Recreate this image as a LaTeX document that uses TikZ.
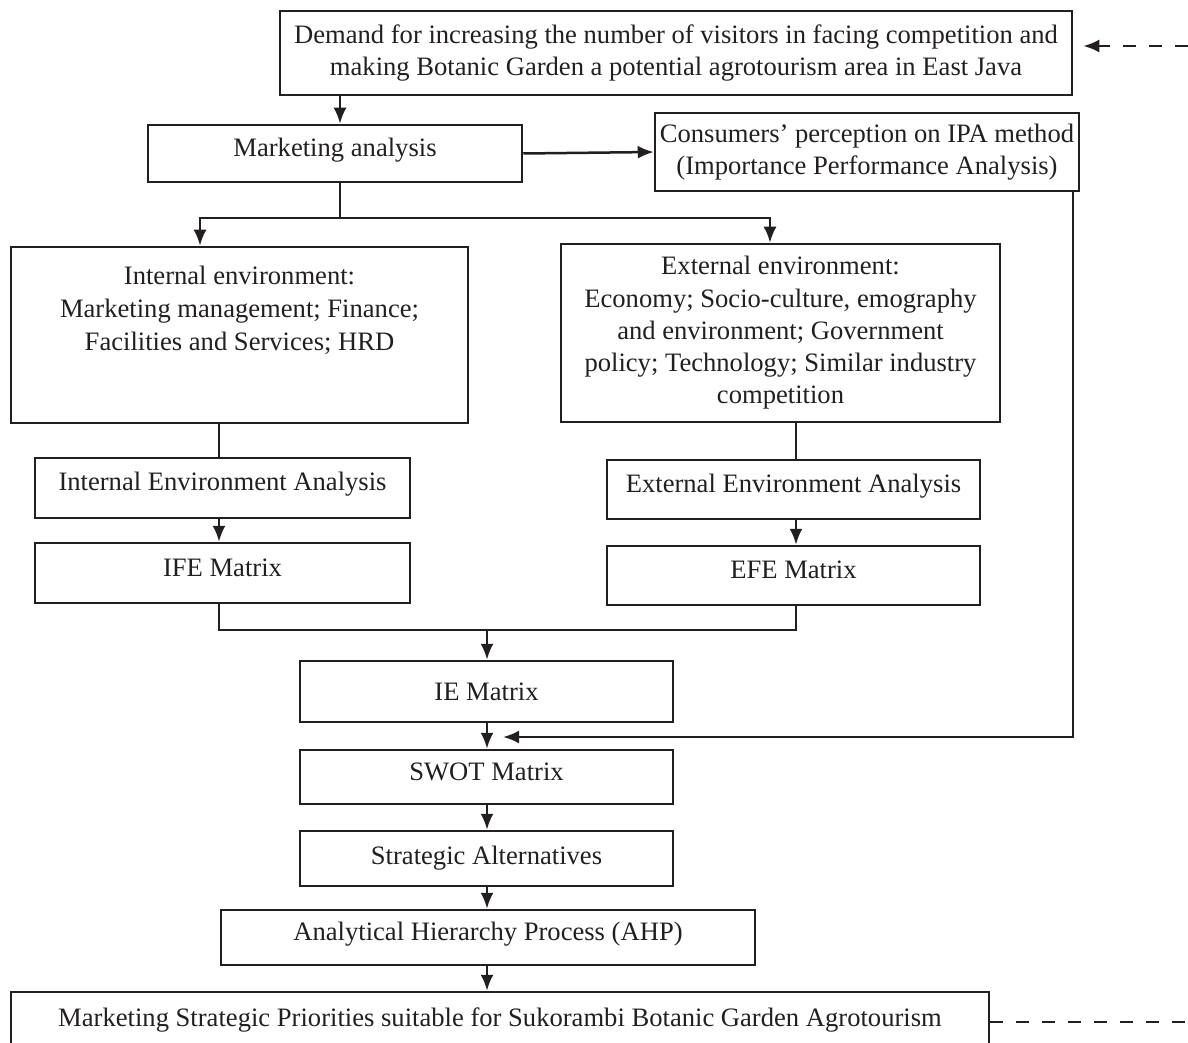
\documentclass[tikz,border=0pt]{standalone}
\usepackage{fontspec}
\setmainfont{Liberation Serif}
\usetikzlibrary{arrows.meta}
\definecolor{ink}{HTML}{231F20}
\begin{document}
\begin{tikzpicture}[x=0.5pt,y=-0.5pt,
  box/.style={draw=ink, line width=1.25pt, inner sep=0pt, text=ink, align=center,
    font=\fontsize{13.3}{16.1}\selectfont},
  lift/.style={text depth=5.8pt},
  plain/.style={text=ink, align=center, inner sep=0pt, font=\fontsize{13.3}{16.5}\selectfont},
  conn/.style={draw=ink, line width=1.25pt},
  tip/.style={-{Latex[length=8pt,width=6.5pt]}},
  arr/.style={conn, tip},
  dashline/.style={conn, dash pattern=on 6.5pt off 6.5pt}]
\useasboundingbox (0,0) rectangle (1188,1043);

% boxes
\node[box, minimum width=396pt, minimum height=42pt] (top) at (676,53)
  {Demand for increasing the number of visitors in facing competition and\\making Botanic Garden a potential agrotourism area in East Java};
\node[box, lift, minimum width=187pt, minimum height=28.5pt] (mkt) at (335,153.5) {Marketing analysis};
\node[box, minimum width=212pt, minimum height=39pt] (cons) at (867,152)
  {Consumers’ perception on IPA method\\(Importance Performance Analysis)};
\node[box, minimum width=228.5pt, minimum height=88pt] (intenv) at (239.5,335) {};
\node[plain] (intenvtxt) at (239.5,310)
  {Internal environment:\\Marketing management; Finance;\\Facilities and Services; HRD};
\node[box, minimum width=219.5pt, minimum height=89pt] (extenv) at (780.5,333)
  {External environment:\\Economy; Socio-culture, emography\\and environment; Government\\policy; Technology; Similar industry\\competition};
\node[box, lift, text depth=7pt, minimum width=187.5pt, minimum height=30pt] (iea) at (222.5,488) {Internal Environment Analysis};
\node[box, lift, minimum width=186.5pt, minimum height=29.5pt] (eea) at (793.5,489.5) {External Environment Analysis};
\node[box, lift, minimum width=187.5pt, minimum height=30pt] (ife) at (222.5,573) {IFE Matrix};
\node[box, lift, minimum width=186.5pt, minimum height=29.5pt] (efe) at (793.5,575.5) {EFE Matrix};
\node[box, minimum width=186.5pt, minimum height=30.5pt] (ie) at (486.5,691.5) {IE Matrix};
\node[box, lift, minimum width=186.5pt, minimum height=27pt] (swot) at (486.5,777) {SWOT Matrix};
\node[box, minimum width=186.5pt, minimum height=27.5pt] (sa) at (486.5,858.5) {Strategic Alternatives};
\node[box, lift, minimum width=267pt, minimum height=27.5pt] (ahp) at (488,937.5) {Analytical Hierarchy Process (AHP)};
\node[box, minimum width=489pt, minimum height=28pt] (msp) at (500,1020)
  {Marketing Strategic Priorities suitable for Sukorambi Botanic Garden Agrotourism};

% helper coordinates
\coordinate (xa) at (340,0);
\coordinate (xl) at (200,0);
\coordinate (xr) at (770,0);
\coordinate (xi) at (219,0);
\coordinate (xe) at (796,0);
\coordinate (xc) at (1073,0);
\coordinate (jm) at (340,218);
\coordinate (jb) at (487,630);
\coordinate (ipain) at (503,737);
\coordinate (rt) at (1188,46);
\coordinate (rb) at (1188,1022);

% connectors
\draw[arr] (top.south -| xa) -- (mkt.north -| xa);
\draw[arr] (mkt.east) -- (cons.west);
\draw[conn] (mkt.south -| xa) -- (jm);
\draw[arr] (jm) -| (xl |- intenv.north);
\draw[arr] (jm) -| (xr |- extenv.north);
\draw[conn] (intenv.south -| xi) -- (iea.north -| xi);
\draw[conn] (extenv.south -| xe) -- (eea.north -| xe);
\draw[arr] (iea.south -| xi) -- (ife.north -| xi);
\draw[arr] (eea.south -| xe) -- (efe.north -| xe);
\draw[conn] (ife.south -| xi) |- (jb -| xe) -- (efe.south -| xe);
\draw[arr] (jb) -- (ie.north -| jb);
\draw[arr] (ie.south -| jb) -- (swot.north -| jb);
\draw[arr] (swot.south -| jb) -- (sa.north -| jb);
\draw[arr] (sa.south -| jb) -- (ahp.north -| jb);
\draw[arr] (ahp.south -| jb) -- (msp.north -| jb);
\draw[arr] (cons.south -| xc) |- (ipain);
\draw[dashline, tip, shorten >=5pt] (rt) -- (top.east |- rt);
\draw[dashline] (msp.east |- rb) -- (rb);
\end{tikzpicture}
\end{document}
